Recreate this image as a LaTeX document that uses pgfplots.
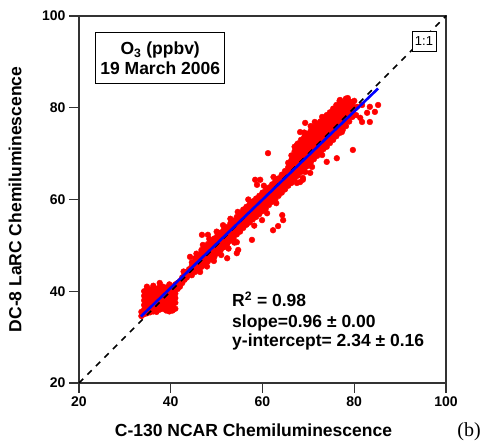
\documentclass[border=0pt]{standalone}
\usepackage{fontspec}
\setmainfont{Liberation Sans}
\newfontfamily\timesfont{Liberation Serif}
\usepackage{pgfplots}
\pgfplotsset{compat=1.18}
\begin{document}
\begin{tikzpicture}
\begin{axis}[name=ax, scale only axis, width=367pt, height=367pt,
  xmin=20, xmax=100, ymin=20, ymax=100,
  xtick={20,40,60,80,100}, ytick={20,40,60,80,100},
  tick pos=left, tick align=outside, major tick length=10pt,
  axis line style={line width=1.3pt, black!80},
  every tick/.style={line width=1.3pt, black!80},
  /pgf/number format/assume math mode=true,
  ticklabel style={font=\fontsize{14}{14}\selectfont\bfseries},
  xlabel={C-130 NCAR Chemiluminescence},
  ylabel={DC-8 LaRC Chemiluminescence},
  label style={font=\fontsize{17.5}{17.5}\selectfont\bfseries},
  xlabel style={at={(axis description cs:0.4755,-0.1471)}, anchor=base},
  ylabel style={at={(axis description cs:-0.1744,0.5)}, anchor=center},
  clip=false, clip marker paths=true]
\addplot[only marks, mark=*, mark size=2.9pt, mark options={fill=red, draw=red}] coordinates {
(33.6,34.6)(33.6,35.5)
(34.2,35.0)(34.2,36.0)(34.2,37.0)(34.2,38.0)(34.2,39.0)(34.2,40.0)
(34.8,35.2)(34.8,36.2)(34.8,37.2)(34.8,38.2)(34.8,39.2)(34.8,40.3)(34.8,41.0)
(35.5,35.4)(35.5,36.4)(35.5,37.4)(35.5,38.4)(35.5,39.4)(35.5,40.4)
(36.2,35.6)(36.2,36.6)(36.2,37.6)(36.2,38.6)(36.2,39.6)(36.2,40.6)(36.2,41.2)
(36.9,35.5)(36.9,36.5)(36.9,37.5)(36.9,38.5)(36.9,39.5)(36.9,40.5)
(37.6,36.0)(37.6,37.0)(37.6,38.0)(37.6,39.0)(37.6,40.0)(37.6,41.0)(37.6,41.8)
(38.3,36.2)(38.3,37.2)(38.3,38.2)(38.3,39.2)(38.3,40.2)(38.3,41.0)
(39.0,35.8)(39.0,36.8)(39.0,37.8)(39.0,38.8)(39.0,39.8)(39.0,40.8)
(39.7,35.6)(39.7,36.6)(39.7,37.6)(39.7,38.6)(39.7,39.6)(39.7,40.6)(39.7,41.5)
(40.4,35.8)(40.4,36.8)(40.4,37.8)(40.4,38.8)(40.4,39.8)(40.4,41.0)
(41.0,36.2)(41.0,37.5)(41.0,38.5)(41.0,39.5)(41.0,40.5)(41.0,41.5)
(41.5,40.5)(41.5,41.8)
(42.0,41.0)(42.0,42.2)(42.5,41.8)(42.5,43.0)(43.0,42.5)(43.0,43.6)(43.5,43.0)(43.5,44.2)
(44.0,43.6)(44.0,44.8)(44.2,47.5)(42.8,44.3)
(44.6,43.5)(44.6,44.5)(44.6,45.5)(44.6,46.3)
(45.3,44.2)(45.3,45.2)(45.3,46.2)(45.3,47.2)
(46.0,44.8)(46.0,45.8)(46.0,46.8)(46.0,47.8)
(46.7,45.3)(46.7,46.3)(46.7,47.3)(46.7,48.3)(46.7,49.0)
(47.4,45.8)(47.4,46.8)(47.4,47.8)(47.4,48.8)(47.4,49.6)
(48.1,46.5)(48.1,47.5)(48.1,48.5)(48.1,49.5)(48.1,50.3)
(48.8,47.0)(48.8,48.0)(48.8,49.0)(48.8,50.0)(48.8,51.0)
(49.5,47.5)(49.5,48.5)(49.5,49.5)(49.5,50.5)(49.5,51.5)
(50.2,48.3)(50.2,49.3)(50.2,50.3)(50.2,51.3)(50.2,52.2)
(50.9,49.0)(50.9,50.0)(50.9,51.0)(50.9,52.0)(50.9,52.8)
(51.6,49.6)(51.6,50.6)(51.6,51.6)(51.6,52.6)(51.6,53.5)
(52.3,50.3)(52.3,51.3)(52.3,52.3)(52.3,53.3)(52.3,54.0)
(53.0,51.0)(53.0,52.0)(53.0,53.0)(53.0,54.0)(53.0,54.8)
(53.7,51.6)(53.7,52.6)(53.7,53.6)(53.7,54.6)(53.7,55.4)
(54.4,52.4)(54.4,53.4)(54.4,54.4)(54.4,55.4)(54.4,56.2)
(55.1,53.0)(55.1,54.0)(55.1,55.0)(55.1,56.0)(55.1,57.0)
(45.6,48.2)(47.0,50.1)(48.4,51.4)(50.0,53.0)(51.4,54.4)(53.0,55.8)(54.6,57.3)
(46.4,44.2)(47.9,45.4)(49.4,46.6)(51.0,47.9)(52.6,49.3)(53.9,50.6)
(46.8,52.3)(48.1,52.3)(54.4,48.3)(52.3,47.2)(49.6,47.9)(54.7,49.0)(54.4,50.7)(57.7,51.2)(59.9,55.5)
(55.8,53.8)(55.8,54.8)(55.8,55.8)(55.8,56.8)(55.8,57.8)
(56.5,54.5)(56.5,55.5)(56.5,56.5)(56.5,57.5)(56.5,58.4)
(57.2,55.0)(57.2,56.0)(57.2,57.0)(57.2,58.0)(57.2,59.0)
(57.9,55.7)(57.9,56.7)(57.9,57.7)(57.9,58.7)(57.9,59.6)
(58.6,56.2)(58.6,57.2)(58.6,58.2)(58.6,59.2)(58.6,60.2)
(59.3,56.8)(59.3,57.8)(59.3,58.8)(59.3,59.8)(59.3,60.8)
(60.0,57.5)(60.0,58.5)(60.0,59.5)(60.0,60.5)(60.0,61.5)
(60.7,58.0)(60.7,59.0)(60.7,60.0)(60.7,61.0)(60.7,62.0)
(61.4,58.8)(61.4,59.8)(61.4,60.8)(61.4,61.8)(61.4,62.6)
(62.1,59.5)(62.1,60.5)(62.1,61.5)(62.1,62.5)(62.1,63.3)
(62.8,60.0)(62.8,61.0)(62.8,62.0)(62.8,63.0)(62.8,64.0)
(63.5,60.8)(63.5,61.8)(63.5,62.8)(63.5,63.8)(63.5,64.6)
(64.2,61.5)(64.2,62.5)(64.2,63.5)(64.2,64.5)(64.2,65.4)
(64.9,62.2)(64.9,63.2)(64.9,64.2)(64.9,65.2)(64.9,66.2)
(56.9,60.0)(60.3,63.0)(62.4,64.9)(58.2,54.3)(61.0,57.0)(63.0,59.2)
(58.4,64.3)(59.5,64.3)(58.8,63.2)(61.2,70.1)(62.3,53.3)(63.4,54.2)(64.5,55.5)(64.3,56.6)
(68.2,67.1)(70.4,65.8)(68.8,64.3)(67.5,63.6)(68.2,63.8)
(65.6,63.0)(65.6,64.0)(65.6,65.0)(65.6,66.0)(65.6,67.0)(65.6,68.0)
(66.3,63.6)(66.3,64.6)(66.3,65.6)(66.3,66.6)(66.3,67.6)(66.3,68.6)(66.3,69.6)
(67.0,64.5)(67.0,65.5)(67.0,66.5)(67.0,67.5)(67.0,68.5)(67.0,69.5)(67.0,70.5)(67.0,71.5)
(67.7,65.2)(67.7,66.2)(67.7,67.2)(67.7,68.2)(67.7,69.2)(67.7,70.2)(67.7,71.2)(67.7,72.2)
(68.4,66.0)(68.4,67.0)(68.4,68.0)(68.4,69.0)(68.4,70.0)(68.4,71.0)(68.4,72.0)(68.4,73.0)
(69.1,66.6)(69.1,67.6)(69.1,68.6)(69.1,69.6)(69.1,70.6)(69.1,71.6)(69.1,72.6)(69.1,73.6)(69.1,74.6)
(69.8,67.3)(69.8,68.3)(69.8,69.3)(69.8,70.3)(69.8,71.3)(69.8,72.3)(69.8,73.3)(69.8,74.3)
(70.5,68.0)(70.5,69.0)(70.5,70.0)(70.5,71.0)(70.5,72.0)(70.5,73.0)(70.5,74.0)(70.5,75.0)(70.5,76.0)
(71.2,68.8)(71.2,69.8)(71.2,70.8)(71.2,71.8)(71.2,72.8)(71.2,73.8)(71.2,74.8)(71.2,75.8)
(71.9,69.5)(71.9,70.5)(71.9,71.5)(71.9,72.5)(71.9,73.5)(71.9,74.5)(71.9,75.5)(71.9,76.5)
(72.6,70.2)(72.6,71.2)(72.6,72.2)(72.6,73.2)(72.6,74.2)(72.6,75.2)(72.6,76.2)(72.6,77.0)
(73.3,71.0)(73.3,72.0)(73.3,73.0)(73.3,74.0)(73.3,75.0)(73.3,76.0)(73.3,77.0)(73.3,77.8)
(74.0,71.5)(74.0,72.5)(74.0,73.5)(74.0,74.5)(74.0,75.5)(74.0,76.5)(74.0,77.5)(74.0,78.4)
(74.7,72.3)(74.7,73.3)(74.7,74.3)(74.7,75.3)(74.7,76.3)(74.7,77.3)(74.7,78.3)(74.7,79.0)
(75.4,73.0)(75.4,74.0)(75.4,75.0)(75.4,76.0)(75.4,77.0)(75.4,78.0)(75.4,79.0)(75.4,79.8)
(76.1,73.8)(76.1,74.8)(76.1,75.8)(76.1,76.8)(76.1,77.8)(76.1,78.8)(76.1,79.8)(76.1,80.6)
(76.8,74.5)(76.8,75.5)(76.8,76.5)(76.8,77.5)(76.8,78.5)(76.8,79.5)(76.8,80.5)(76.8,81.5)
(77.5,75.2)(77.5,76.2)(77.5,77.2)(77.5,78.2)(77.5,79.2)(77.5,80.2)(77.5,81.2)
(78.2,76.0)(78.2,77.0)(78.2,78.0)(78.2,79.0)(78.2,80.0)(78.2,81.0)(78.2,82.0)
(78.9,77.0)(78.9,78.0)(78.9,79.0)(78.9,80.0)(78.9,81.0)
(79.6,78.0)(79.6,79.0)(79.6,80.0)(79.6,81.0)
(67.5,71.9)(68.2,70.8)(68.2,74.7)(69.3,76.7)(71.4,76.9)(73.0,78.0)(75.2,79.1)(76.9,81.7)(78.6,82.1)
(79.7,70.8)(76.2,69.0)(74.0,68.2)(73.0,69.7)(70.8,67.1)(69.3,66.0)(68.8,64.7)(67.5,65.8)(66.4,64.2)
(77.3,74.7)(77.5,76.2)
(79.1,81.3)(80.6,80.2)(81.7,80.6)(83.4,80.2)(85.2,80.6)(84.5,79.1)(82.8,78.9)(81.3,77.8)(81.7,76.9)(83.4,76.9)
(80.2,79.9)(80.4,78.4)(80.0,81.5)
};
\addplot[black, line width=1.6pt, dash pattern=on 6pt off 6pt] coordinates {(20,20)(100,100)};
\addplot[blue, line width=2.6pt] coordinates {(33.5,34.5)(85.2,84.2)};
\node[draw, fill=white, line width=1.2pt, minimum width=129pt, minimum height=51pt, align=center,
  font=\fontsize{17.5}{20}\selectfont\bfseries, inner sep=2pt]
  at (axis cs:37.7,90.8) {O\textsubscript{3} (ppbv)\\19 March 2006};
\node[draw, fill=white, line width=0.9pt, font=\fontsize{13}{13}\selectfont, inner sep=2pt,
  minimum width=24pt, minimum height=20pt]
  at (axis cs:95.2,94.5) {1:1};
\node[anchor=base west, inner sep=0pt, font=\fontsize{17.5}{17.5}\selectfont\bfseries]
  at (axis cs:53.35,36.57) {R\textsuperscript{2} = 0.98};
\node[anchor=base west, inner sep=0pt, font=\fontsize{17.5}{17.5}\selectfont\bfseries]
  at (axis cs:53.35,32.2) {slope=0.96 ± 0.00};
\node[anchor=base west, inner sep=0pt, font=\fontsize{17.5}{17.5}\selectfont\bfseries]
  at (axis cs:53.35,28.0) {y-intercept= 2.34 ± 0.16};
\node[anchor=base, inner sep=0pt, font=\timesfont\fontsize{20}{20}\selectfont]
  at ([xshift=23pt, yshift=-54pt]rel axis cs:1,0) {(b)};
\end{axis}
\path ([xshift=-79pt,yshift=-58pt]ax.south west) rectangle ([xshift=42pt,yshift=16pt]ax.north east);
\end{tikzpicture}
\end{document}
